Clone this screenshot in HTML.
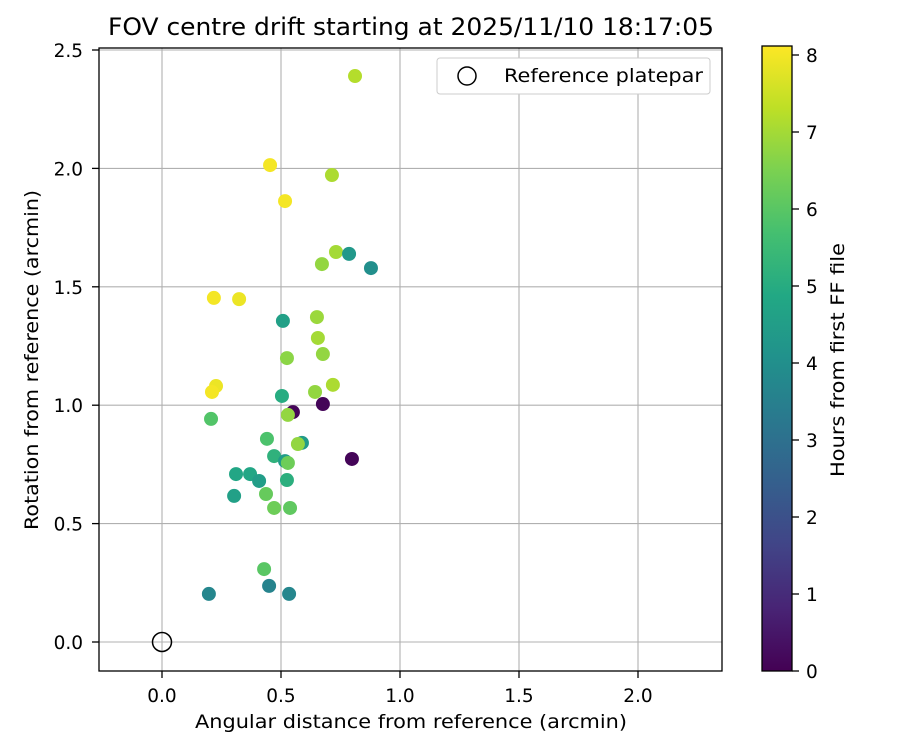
<!DOCTYPE html>
<html><head><meta charset="utf-8"><style>
html,body{margin:0;padding:0;background:#fff;}
svg{display:block;font-family:"DejaVu Sans","Liberation Sans",sans-serif;}
</style></head><body>
<svg id="chart" width="900" height="750" viewBox="0 0 900 750">
<defs>
<linearGradient id="vir" x1="0" y1="1" x2="0" y2="0">
<stop offset="0" stop-color="#440154"/><stop offset="0.1" stop-color="#482475"/>
<stop offset="0.2" stop-color="#414487"/><stop offset="0.3" stop-color="#355f8d"/>
<stop offset="0.4" stop-color="#2a788e"/><stop offset="0.5" stop-color="#21918c"/>
<stop offset="0.6" stop-color="#22a884"/><stop offset="0.7" stop-color="#44bf70"/>
<stop offset="0.8" stop-color="#7ad151"/><stop offset="0.9" stop-color="#bddf26"/>
<stop offset="1" stop-color="#fde725"/>
</linearGradient>
</defs>
<text x="411" y="35" font-size="24" text-anchor="middle" textLength="606" lengthAdjust="spacingAndGlyphs">FOV centre drift starting at 2025/11/10 18:17:05</text>
<g id="grid"></g>
<g id="ticks"></g>
<g id="points"></g>
<rect x="99" y="48" width="623" height="623" fill="none" stroke="#000" stroke-width="1.3"/>
<text x="411" y="728" font-size="19" text-anchor="middle" textLength="432" lengthAdjust="spacingAndGlyphs">Angular distance from reference (arcmin)</text>
<text transform="translate(38,360) rotate(-90)" font-size="19" text-anchor="middle" textLength="340" lengthAdjust="spacingAndGlyphs">Rotation from reference (arcmin)</text>
<g>
<rect x="437" y="58" width="273" height="36" rx="3" fill="#fff" stroke="#ccc"/>
<circle cx="467" cy="76" r="9" fill="none" stroke="#000" stroke-width="1.5"/>
<text x="504" y="82" font-size="19" textLength="199" lengthAdjust="spacingAndGlyphs">Reference platepar</text>
</g>
<rect x="762" y="46" width="30" height="625" fill="url(#vir)" stroke="#000" stroke-width="1.3"/>
<g id="cticks"></g>
<text transform="translate(844,360) rotate(-90)" font-size="19" text-anchor="middle" textLength="234" lengthAdjust="spacingAndGlyphs">Hours from first FF file</text>
</svg>
<script>
const xVals=[0.811,0.454,0.714,0.517,0.731,0.672,0.786,0.878,0.218,0.324,0.508,0.651,0.655,0.676,0.525,0.227,0.210,0.643,0.718,0.504,0.676,0.550,0.529,0.206,0.441,0.588,0.571,0.471,0.517,0.529,0.798,0.311,0.370,0.408,0.525,0.303,0.437,0.471,0.538,0.429,0.197,0.450,0.534];
const yVals=[2.390,2.014,1.972,1.862,1.647,1.596,1.639,1.579,1.453,1.448,1.356,1.372,1.284,1.216,1.199,1.081,1.056,1.056,1.086,1.039,1.005,0.971,0.959,0.942,0.858,0.841,0.836,0.785,0.764,0.756,0.773,0.709,0.709,0.680,0.684,0.617,0.625,0.566,0.566,0.308,0.203,0.237,0.203];
const hours=[7.2,8.0,7.1,8.0,7.0,6.8,4.3,4.0,8.0,7.9,4.6,6.9,7.0,6.8,6.7,7.9,8.0,6.8,7.1,5.0,0.1,0.1,6.8,5.9,5.8,4.4,6.8,5.2,4.4,6.3,0.1,4.8,4.8,4.5,5.1,4.6,6.2,6.3,6.1,6.0,3.7,3.6,3.7];
const xTicks=[0.0,0.5,1.0,1.5,2.0];
const yTicks=[0.0,0.5,1.0,1.5,2.0,2.5];
const cTicks=[0,1,2,3,4,5,6,7,8];
const NS="http://www.w3.org/2000/svg";
const X=v=>162+v*238, Y=v=>642-v*236.8, C=v=>671-v*77;
const vir=[[68,1,84],[72,36,117],[65,68,135],[53,95,141],[42,120,142],[33,145,140],[34,168,132],[68,191,112],[122,209,81],[189,223,38],[253,231,37]];
function col(h){let t=Math.max(0,Math.min(1,h/8.12))*10;let i=Math.min(9,Math.floor(t));const f=t-i;
const c=vir[i].map((a,k)=>Math.round(a+(vir[i+1][k]-a)*f));return `rgb(${c})`;}
function mk(tag,attrs,parent){const e=document.createElementNS(NS,tag);for(const k in attrs)e.setAttribute(k,attrs[k]);document.getElementById(parent).appendChild(e);return e;}
xTicks.forEach(v=>{
 let g=mk('line',{x1:X(v),x2:X(v),y1:48,y2:671,stroke:'#b0b0b0','stroke-width':1.1},'grid');
 
 
 let t=mk('line',{x1:X(v),x2:X(v),y1:671,y2:678,stroke:'#000','stroke-width':1.3},'ticks');
 
 
 let l=mk('text',{x:X(v),y:702,'font-size':18.5,'text-anchor':'middle'},'ticks');l.textContent=v.toFixed(1);
 
 
});
yTicks.forEach(v=>{
 let g=mk('line',{x1:99,x2:722,y1:Y(v),y2:Y(v),stroke:'#b0b0b0','stroke-width':1.1},'grid');
 
 
 let t=mk('line',{x1:92,x2:99,y1:Y(v),y2:Y(v),stroke:'#000','stroke-width':1.3},'ticks');
 
 
 let l=mk('text',{x:83,y:Y(v)+7,'font-size':18.5,'text-anchor':'end'},'ticks');l.textContent=v.toFixed(1);
 
 
});
cTicks.forEach(v=>{
 let t=mk('line',{x1:792,x2:799,y1:C(v),y2:C(v),stroke:'#000','stroke-width':1.3},'cticks');
 
 
 let l=mk('text',{x:806,y:C(v)+7,'font-size':18.5},'cticks');l.textContent=v;
 
 
});
xVals.forEach((v,i)=>{
 let p=mk('circle',{cx:X(v),cy:Y(yVals[i]),r:7,fill:col(hours[i])},'points');
 
 
});
let r=mk('circle',{cx:X(0),cy:Y(0),r:9.5,fill:'none',stroke:'#000','stroke-width':1.5},'points');


</script>
</body></html>
